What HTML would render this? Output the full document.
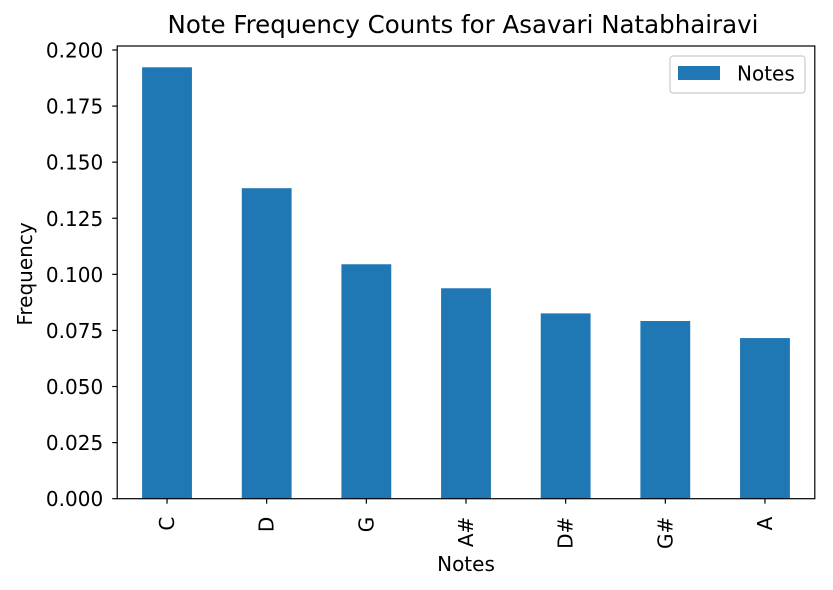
<!DOCTYPE html>
<html><head><meta charset="utf-8"><style>
body{margin:0;background:#fff;}
svg{display:block;font-family:"DejaVu Sans","Liberation Sans",sans-serif;}
</style></head><body>
<svg id="chart" width="833" height="590">
<rect width="833" height="590" fill="#fff"/>
<text x="463" y="33" font-size="24.5" text-anchor="middle" fill="#000">Note Frequency Counts for Asavari Natabhairavi</text>
<g id="bars"></g>
<g id="yaxis"></g>
<g id="xaxis"></g>
<rect x="117.2" y="46" width="697.6" height="452.7" fill="none" stroke="#000" stroke-width="1.2"/>
<text x="466" y="571" font-size="20" text-anchor="middle">Notes</text>
<text transform="translate(32,274) rotate(-90)" font-size="20" text-anchor="middle">Frequency</text>
<g>
<rect x="670" y="56" width="135" height="37" rx="3" fill="#fff" stroke="#ccc" stroke-width="1.2"/>
<rect x="678" y="66" width="42" height="14" fill="#1f77b4"/>
<text x="737" y="80.5" font-size="20">Notes</text>
</g>
</svg>
<script>
const categories = ["C","D","G","A#","D#","G#","A"];
const values = [0.1923, 0.1384, 0.1045, 0.0938, 0.0826, 0.0792, 0.0716];
const yTicks = [0,0.025,0.05,0.075,0.1,0.125,0.15,0.175,0.2];
const yTickLabels = ["0.000","0.025","0.050","0.075","0.100","0.125","0.150","0.175","0.200"];
const NS="http://www.w3.org/2000/svg";
const L=117.2,R=814.8,B=498.7,T=46,yMax=0.2,yPix=448.7;
const u=(R-L)/categories.length;
const xc=i=>L+(i+0.5)*u;
const ys=v=>B-v/yMax*yPix;
function mk(t,a){const e=document.createElementNS(NS,t);for(const k in a)e.setAttribute(k,a[k]);return e;}
const bars=document.getElementById('bars'),ya=document.getElementById('yaxis'),xa=document.getElementById('xaxis');
values.forEach((v,i)=>{
 const r=mk('rect',{x:xc(i)-u/4,y:ys(v),width:u/2,height:B-ys(v),fill:'#1f77b4'});
 
 
 bars.appendChild(r);
 const tk=mk('line',{x1:xc(i),x2:xc(i),y1:B,y2:B+5,stroke:'#000','stroke-width':1.2});
 
 
 xa.appendChild(tk);
 const t=mk('text',{transform:`translate(${xc(i)+7},${B+18}) rotate(-90)`,'font-size':20,'text-anchor':'end'});
 t.textContent=categories[i];
 
 
 xa.appendChild(t);
});
yTicks.forEach((v,i)=>{
 const tk=mk('line',{x1:L-5,x2:L,y1:ys(v),y2:ys(v),stroke:'#000','stroke-width':1.2});
 
 
 ya.appendChild(tk);
 const t=mk('text',{x:L-14,y:ys(v)+7.5,'font-size':20,'text-anchor':'end'});
 t.textContent=yTickLabels[i];
 
 
 ya.appendChild(t);
});
</script>
</body></html>
